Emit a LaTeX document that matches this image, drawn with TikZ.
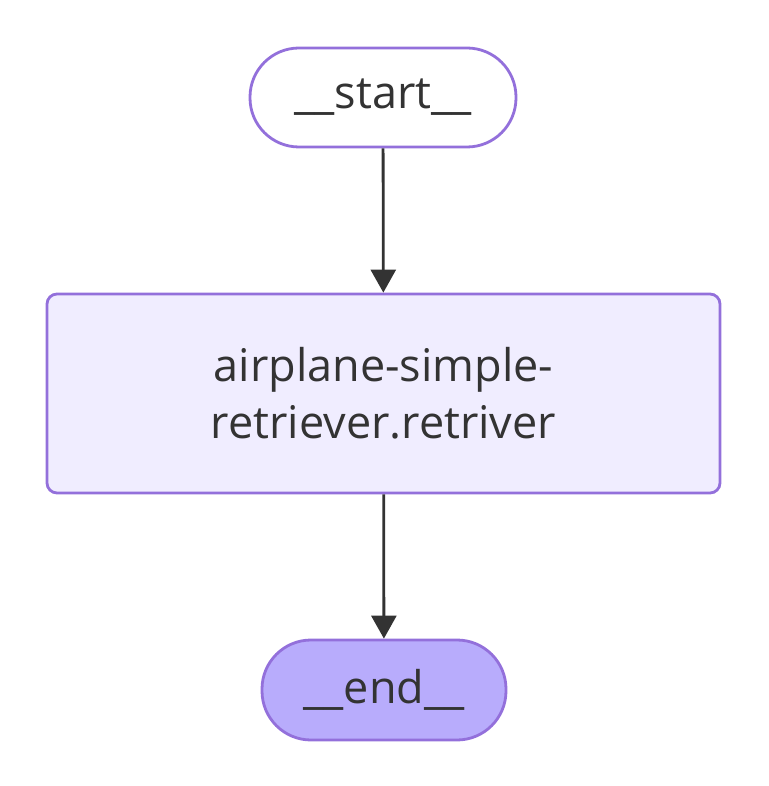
\documentclass[tikz,border=0pt]{standalone}
\usepackage{fontspec}
\setmainfont{Open Sans}
\usetikzlibrary{arrows.meta}
\definecolor{nodeborder}{HTML}{9370DB}
\definecolor{nodefill}{HTML}{F0EDFF}
\definecolor{endfill}{HTML}{B8ACFC}
\definecolor{textdark}{HTML}{333333}

\begin{document}
\begin{tikzpicture}[
    x=1pt, y=-1pt,
    every node/.style={font=\fontsize{45}{57}\selectfont, text=textdark},
    terminal/.style={draw=nodeborder, line width=2.8pt, rounded corners=49pt, inner sep=0pt},
    stepbox/.style={draw=nodeborder, line width=2.8pt, rounded corners=10pt, fill=nodefill,
        minimum width=673pt, minimum height=199pt, align=center, inner sep=0pt},
    link/.style={line width=2.8pt, textdark},
    >={Triangle[length=23pt, width=25pt]}
]

\useasboundingbox (0,0) rectangle (768,786);

% Nodes
\node[terminal, fill=white, minimum width=266pt, minimum height=99pt] (start) at (383,97.5) {\_\_start\_\_};
\node[stepbox] (retriever) at (383.5,393.5) {airplane-simple-\\retriever.retriver};
\node[terminal, fill=endfill, minimum width=244pt, minimum height=100pt] (end) at (384,690) {\_\_end\_\_};

% Edges
\draw[->, link] (start) -- (retriever);
\draw[->, link] (retriever) -- (end);

\end{tikzpicture}
\end{document}
